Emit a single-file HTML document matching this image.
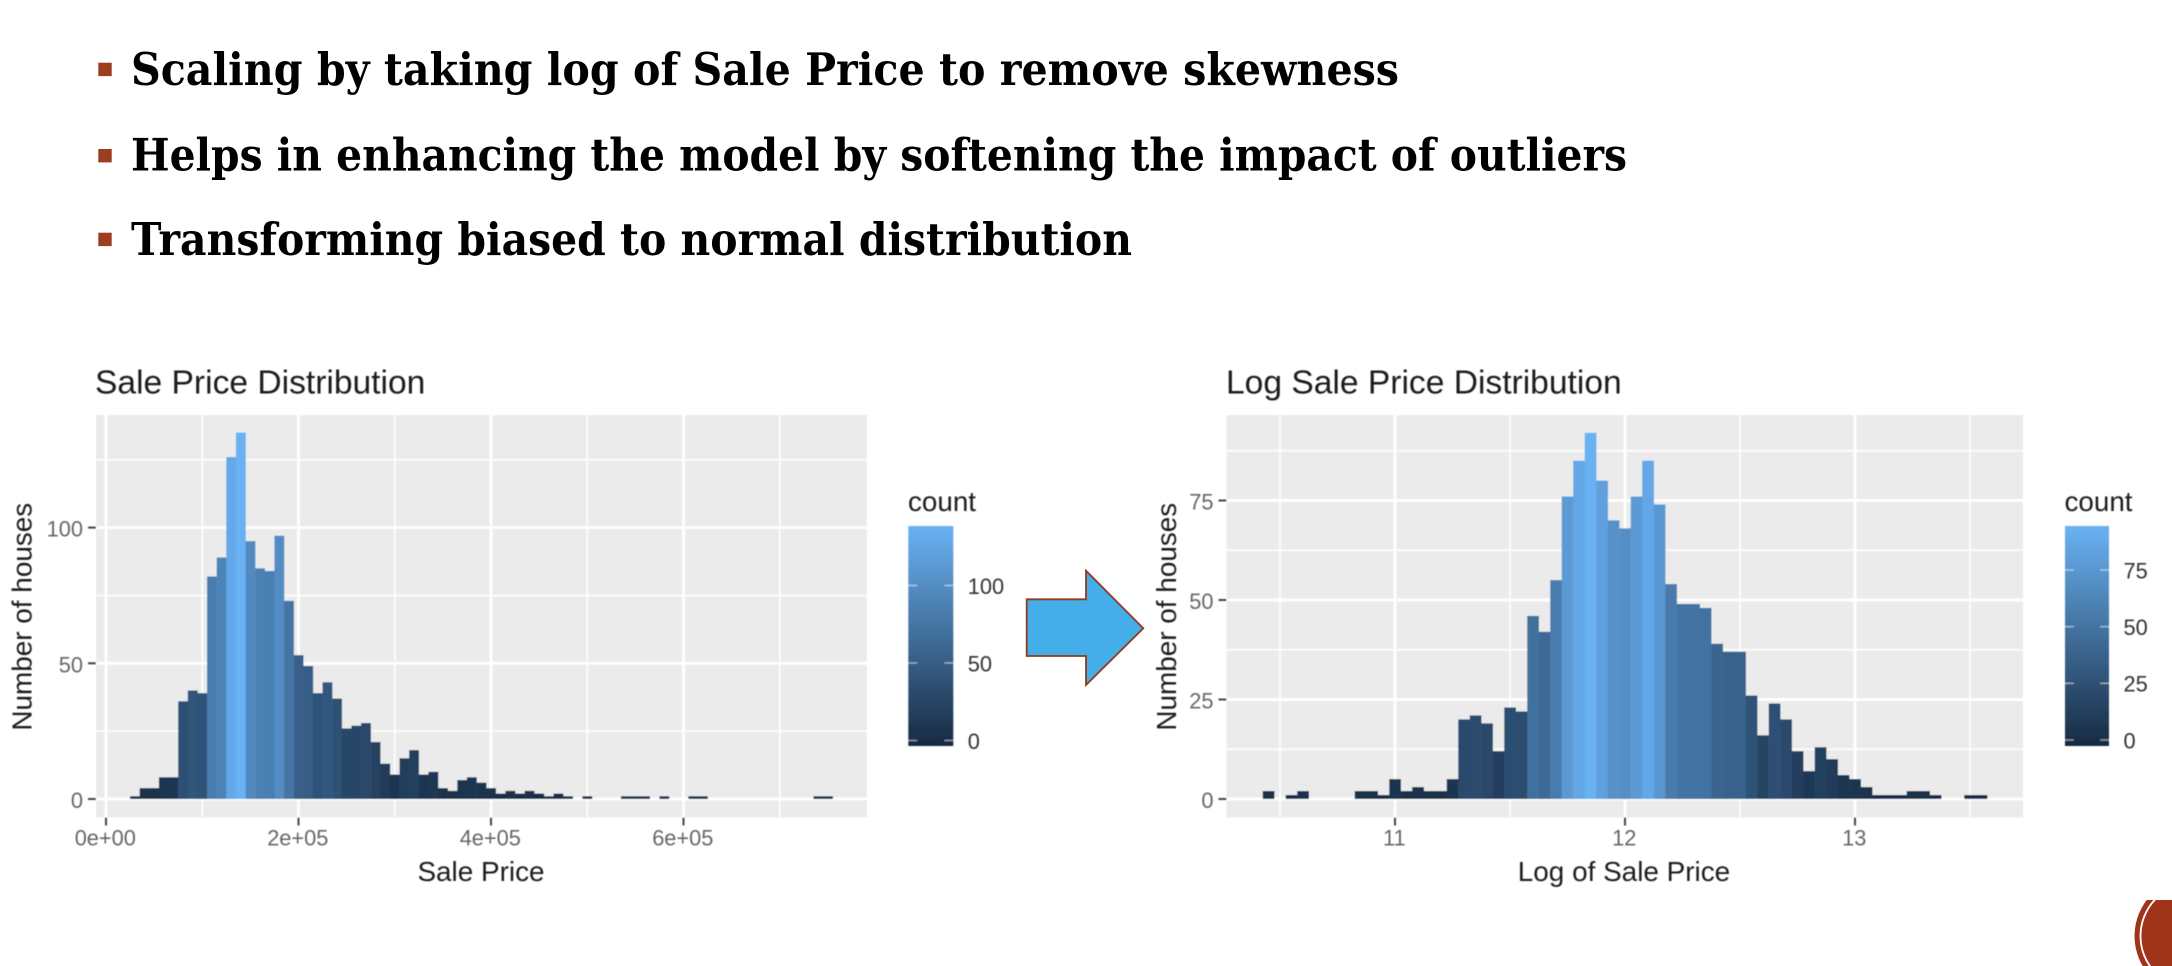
<!DOCTYPE html>
<html lang="en">
<head>
<meta charset="utf-8">
<title>Sale Price Distribution slide</title>
<style>
html,body{margin:0;padding:0;background:#fff;}
body{width:2172px;height:966px;overflow:hidden;}
svg{display:block;}
.sans{font-family:"Liberation Sans",Arial,sans-serif;}
.bul{font-family:"DejaVu Serif",serif;font-weight:bold;font-size:45px;fill:#000;}
.ttl{font-size:33.6px;fill:#1c1c1c;}
.axt{font-size:27.9px;fill:#1f1f1f;}
.tick{font-size:21.8px;fill:#666666;}
.lgt{font-size:27.8px;fill:#1c1c1c;}
.lgl{font-size:21.8px;fill:#333333;}
</style>
</head>
<body>
<svg id="root" xmlns="http://www.w3.org/2000/svg" width="2172" height="966" viewBox="0 0 2172 966">
  <defs>
    <filter id="soft" x="-5%" y="-5%" width="110%" height="110%"><feGaussianBlur stdDeviation="0.6"/></filter>
    <linearGradient id="legendGrad" x1="0" y1="0" x2="0" y2="1">
      <stop offset="0" stop-color="#6ab2f3"/>
      <stop offset="1" stop-color="#172a42"/>
    </linearGradient>
    <clipPath id="cornerClip"><rect x="2100" y="900" width="72" height="66"/></clipPath>
  </defs>
  <rect x="0" y="0" width="2172" height="966" fill="#ffffff"/>

  <g>
    <rect x="98.3" y="62.7" width="13.4" height="13.4" fill="#9c3d1f"/>
    <text class="bul" x="131" y="85" textLength="1268" lengthAdjust="spacingAndGlyphs">Scaling by taking log of Sale Price to remove skewness</text>
    <rect x="98.3" y="149" width="13.4" height="13.4" fill="#9c3d1f"/>
    <text class="bul" x="131" y="170.7" textLength="1496" lengthAdjust="spacingAndGlyphs">Helps in enhancing the model by softening the impact of outliers</text>
    <rect x="98.3" y="232.7" width="13.4" height="13.4" fill="#9c3d1f"/>
    <text class="bul" x="131" y="255" textLength="1001" lengthAdjust="spacingAndGlyphs">Transforming biased to normal distribution</text>
  </g>

  <g id="chartLeft" class="sans" filter="url(#soft)">
    <text class="ttl" x="95" y="393.5">Sale Price Distribution</text>
    <text class="axt" x="481" y="881" text-anchor="middle">Sale Price</text>
    <text class="axt" transform="translate(31.5,616.7) rotate(-90)" text-anchor="middle">Number of houses</text>
    <text class="lgt" x="908" y="511">count</text>
    <rect x="908.3" y="526" width="45" height="220" fill="url(#legendGrad)"/>
  </g>

  <g id="chartRight" class="sans" filter="url(#soft)">
    <text class="ttl" x="1226" y="393.5">Log Sale Price Distribution</text>
    <text class="axt" x="1624" y="881" text-anchor="middle">Log of Sale Price</text>
    <text class="axt" transform="translate(1176,616.7) rotate(-90)" text-anchor="middle">Number of houses</text>
    <text class="lgt" x="2064.5" y="511">count</text>
    <rect x="2065" y="526" width="44" height="220" fill="url(#legendGrad)"/>
  </g>

  <polygon points="1026.7,599.3 1086,599.3 1086,570.7 1143.3,628.3 1086,685 1086,656 1026.7,656" fill="#45aee9" stroke="#8e3b1f" stroke-width="1.8"/>

  <g clip-path="url(#cornerClip)">
    <circle cx="2193.5" cy="936" r="59" fill="#a0341a"/>
    <circle cx="2193.5" cy="936" r="53" fill="#a0341a" stroke="#ffffff" stroke-width="1.8"/>
  </g>
</svg>
<script>
// ---- Left chart data: Sale Price histogram ----
const leftBinStart = 25000;
const leftBinWidth = 10000;
const leftCounts = [1,4,4,8,8,36,40,39,82,89,126,135,95,85,84,97,73,53,49,39,43,37,26,27,28,21,13,9,15,18,9,10,4,3,7,8,6,4,2,3,2,3,2,1,2,1,0,1,0,0,0,1,1,1,0,1,0,0,1,1,0,0,0,0,0,0,0,0,0,0,0,1,1];
const leftXMajor = [0,200000,400000,600000];
const leftXMajorLabels = ["0e+00","2e+05","4e+05","6e+05"];
const leftXMinor = [100000,300000,500000,700000];
const leftYMajor = [0,50,100];
const leftYMinor = [25,75,125];
const leftLegendTicks = [0,50,100];

// ---- Right chart data: Log Sale Price histogram ----
const rightBinStart = 10.425;
const rightBinWidth = 0.05;
const rightCounts = [2,0,1,2,0,0,0,0,2,2,1,5,2,3,2,2,5,20,21,19,12,23,22,46,42,55,76,85,92,80,70,68,76,85,74,54,49,49,48,39,37,37,26,16,24,20,12,7,13,10,6,5,3,1,1,1,2,2,1,0,0,1,1];
const rightXMajor = [11,12,13];
const rightXMajorLabels = ["11","12","13"];
const rightXMinor = [10.5,11.5,12.5,13.5];
const rightYMajor = [0,25,50,75];
const rightYMinor = [12.5,37.5,62.5,87.5];
const rightLegendTicks = [0,25,50,75];

const NS = "http://www.w3.org/2000/svg";
function mk(tag, attrs, parent){
  const el = document.createElementNS(NS, tag);
  for (const k in attrs) el.setAttribute(k, attrs[k]);
  parent.appendChild(el);
  return el;
}
const LOW = [24,45,71], HIGH = [105,177,243];
function colorFor(v, max){
  const t = v / max;
  const c = LOW.map((l, i) => Math.round(l + (HIGH[i] - l) * t));
  return "rgb(" + c.join(",") + ")";
}

function drawChart(opts){
  const g = opts.group;
  const first = g.firstElementChild;
  const layer = document.createElementNS(NS, "g");
  
  
  g.insertBefore(layer, first);

  const panel = mk("rect", {x: opts.px0, y: opts.py0, width: opts.px1 - opts.px0, height: opts.py1 - opts.py0, fill: "#ebebeb"}, layer);
  
  

  opts.yMinor.forEach(v => {
    const l = mk("line", {x1: opts.px0, x2: opts.px1, y1: opts.y(v), y2: opts.y(v), stroke: "#fff", "stroke-width": 1.5}, layer);
    
    
  });
  opts.xMinor.forEach(v => {
    const l = mk("line", {x1: opts.x(v), x2: opts.x(v), y1: opts.py0, y2: opts.py1, stroke: "#fff", "stroke-width": 1.5}, layer);
    
    
  });
  opts.yMajor.forEach(v => {
    const yy = opts.y(v);
    const l = mk("line", {x1: opts.px0, x2: opts.px1, y1: yy, y2: yy, stroke: "#fff", "stroke-width": 2.8}, layer);
    
    
    const t = mk("line", {x1: opts.px0 - 8, x2: opts.px0, y1: yy, y2: yy, stroke: "#444", "stroke-width": 2}, layer);
    
    
    const lab = mk("text", {x: opts.px0 - 13, y: yy + 9, "text-anchor": "end", class: "tick"}, layer);
    
    
    lab.textContent = String(v);
  });
  opts.xMajor.forEach((v, i) => {
    const xx = opts.x(v);
    const l = mk("line", {x1: xx, x2: xx, y1: opts.py0, y2: opts.py1, stroke: "#fff", "stroke-width": 2.8}, layer);
    
    
    const t = mk("line", {x1: xx, x2: xx, y1: opts.py1, y2: opts.py1 + 8, stroke: "#444", "stroke-width": 2}, layer);
    
    
    const lab = mk("text", {x: xx - 0.7, y: opts.py1 + 28, "text-anchor": "middle", class: "tick"}, layer);
    
    
    lab.textContent = opts.xLabels[i];
  });

  const max = Math.max.apply(null, opts.counts);
  opts.counts.forEach((c, k) => {
    if (!c) return;
    const x0 = opts.x(opts.binStart + k * opts.binWidth);
    const x1 = opts.x(opts.binStart + (k + 1) * opts.binWidth);
    const bar = mk("rect", {x: x0, y: opts.y(c), width: x1 - x0 + 0.2, height: opts.y(0) - opts.y(c), fill: colorFor(c, max)}, layer);
    
    
  });

  opts.legendTicks.forEach(v => {
    const yy = opts.legY(v);
    const a = mk("line", {x1: opts.lx0, x2: opts.lx0 + opts.lw * 0.2, y1: yy, y2: yy, stroke: "#fff", "stroke-opacity": 0.5, "stroke-width": 1.5}, g);
    
    
    const b = mk("line", {x1: opts.lx0 + opts.lw * 0.8, x2: opts.lx0 + opts.lw, y1: yy, y2: yy, stroke: "#fff", "stroke-opacity": 0.5, "stroke-width": 1.5}, g);
    
    
    const lab = mk("text", {x: opts.lx0 + opts.lw + 14.5, y: yy + 8.3, class: "lgl"}, g);
    
    
    lab.textContent = String(v);
  });
}

drawChart({
  group: document.getElementById("chartLeft"), prefix: "left",
  px0: 96, px1: 867, py0: 415, py1: 817.5,
  x: v => 106 + v * 0.0009625,
  y: v => 799 - v * 2.714,
  xMajor: leftXMajor, xMinor: leftXMinor, xLabels: leftXMajorLabels,
  yMajor: leftYMajor, yMinor: leftYMinor,
  counts: leftCounts, binStart: leftBinStart, binWidth: leftBinWidth,
  legendTicks: leftLegendTicks, legY: v => 740.5 - v * 1.55, lx0: 908.3, lw: 45
});
drawChart({
  group: document.getElementById("chartRight"), prefix: "right",
  px0: 1226.5, px1: 2023, py0: 415, py1: 817.5,
  x: v => 1395 + (v - 11) * 230,
  y: v => 799 - v * 3.98,
  xMajor: rightXMajor, xMinor: rightXMinor, xLabels: rightXMajorLabels,
  yMajor: rightYMajor, yMinor: rightYMinor,
  counts: rightCounts, binStart: rightBinStart, binWidth: rightBinWidth,
  legendTicks: rightLegendTicks, legY: v => 740 - v * 2.267, lx0: 2065, lw: 44
});
</script>
</body>
</html>
